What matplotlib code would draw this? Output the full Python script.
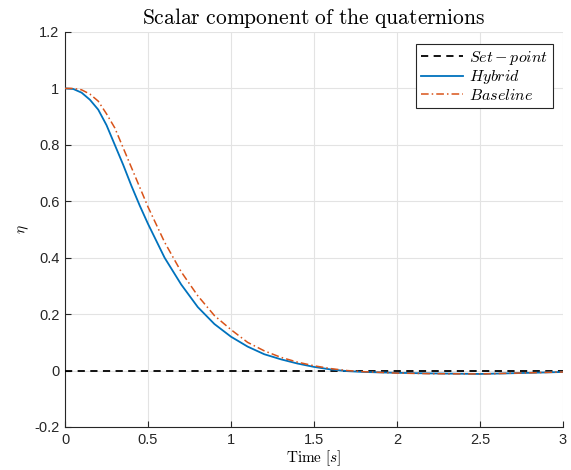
import matplotlib
matplotlib.use("Agg")
import matplotlib.pyplot as plt
import numpy as np

t = [0, 0.05, 0.1, 0.15, 0.2, 0.25, 0.3, 0.35, 0.4, 0.45, 0.5, 0.6, 0.7, 0.8, 0.9,
     1.0, 1.1, 1.2, 1.3, 1.4, 1.5, 1.6, 1.7, 1.8, 2.0, 2.2, 2.5, 2.8, 3.0]
hybrid = [1.0, 0.998, 0.985, 0.96, 0.925, 0.87, 0.80, 0.73, 0.655, 0.585, 0.52, 0.40,
          0.305, 0.225, 0.165, 0.12, 0.085, 0.058, 0.04, 0.025, 0.013, 0.004, -0.002,
          -0.005, -0.008, -0.010, -0.012, -0.008, -0.005]
baseline = [1.0, 1.0, 0.995, 0.98, 0.955, 0.91, 0.86, 0.79, 0.72, 0.65, 0.58, 0.455,
            0.35, 0.265, 0.195, 0.145, 0.10, 0.07, 0.047, 0.03, 0.017, 0.007, 0.0,
            -0.004, -0.009, -0.011, -0.012, -0.008, -0.005]
setpoint = [0.0, 0.0]
setpoint_t = [0, 3]
xticks = [0, 0.5, 1, 1.5, 2, 2.5, 3]
xticklabels = ['0', '0.5', '1', '1.5', '2', '2.5', '3']
yticks = [-0.2, 0, 0.2, 0.4, 0.6, 0.8, 1.0, 1.2]
yticklabels = ['-0.2', '0', '0.2', '0.4', '0.6', '0.8', '1', '1.2']

plt.rcParams['mathtext.fontset'] = 'cm'
plt.rcParams['font.family'] = ['Liberation Sans', 'DejaVu Sans']

fig = plt.figure(figsize=(5.71, 4.70), dpi=100)
ax = fig.add_axes([65/571, 43/470, 498/571, 395/470])

ax.plot(setpoint_t, setpoint, color='black', ls=(0, (4, 3)), lw=1.3, label=r'$Set-point$', zorder=3)
ax.plot(t, hybrid, color='#0072BD', lw=1.3, label=r'$Hybrid$', zorder=4)
ax.plot(t, baseline, color='#D95319', lw=1.1, ls=(0, (5, 2, 1, 2)), label=r'$Baseline$', zorder=5)

ax.set_xlim(0, 3)
ax.set_ylim(-0.2, 1.2)
ax.set_xticks(xticks)
ax.set_xticklabels(xticklabels)
ax.set_yticks(yticks)
ax.set_yticklabels(yticklabels)
ax.grid(True, color='#e3e3e3', lw=0.8)
ax.set_axisbelow(True)
for s in ['top', 'right']:
    ax.spines[s].set_visible(False)
for s in ['left', 'bottom']:
    ax.spines[s].set_color('#262626')
    ax.spines[s].set_linewidth(0.8)
ax.tick_params(direction='in', length=4, width=0.8, colors='#262626', labelsize=10.5, pad=4)

ax.set_title(r'$\mathrm{Scalar\ component\ of\ the\ quaternions}$', fontsize=15.5, pad=6)
ax.set_xlabel(r'$\mathrm{Time}\ [s]$', fontsize=11, labelpad=1.5)
ax.set_ylabel(r'$\eta$', fontsize=11, labelpad=2)

leg = ax.legend(loc='upper right', bbox_to_anchor=(0.98, 0.97), fontsize=11.5, frameon=True,
                fancybox=False, edgecolor='#262626', framealpha=1, borderpad=0.3,
                labelspacing=0.1, handlelength=2.6, handletextpad=0.4, borderaxespad=0)
leg.get_frame().set_linewidth(0.8)

fig.savefig('out.png', dpi=100)
